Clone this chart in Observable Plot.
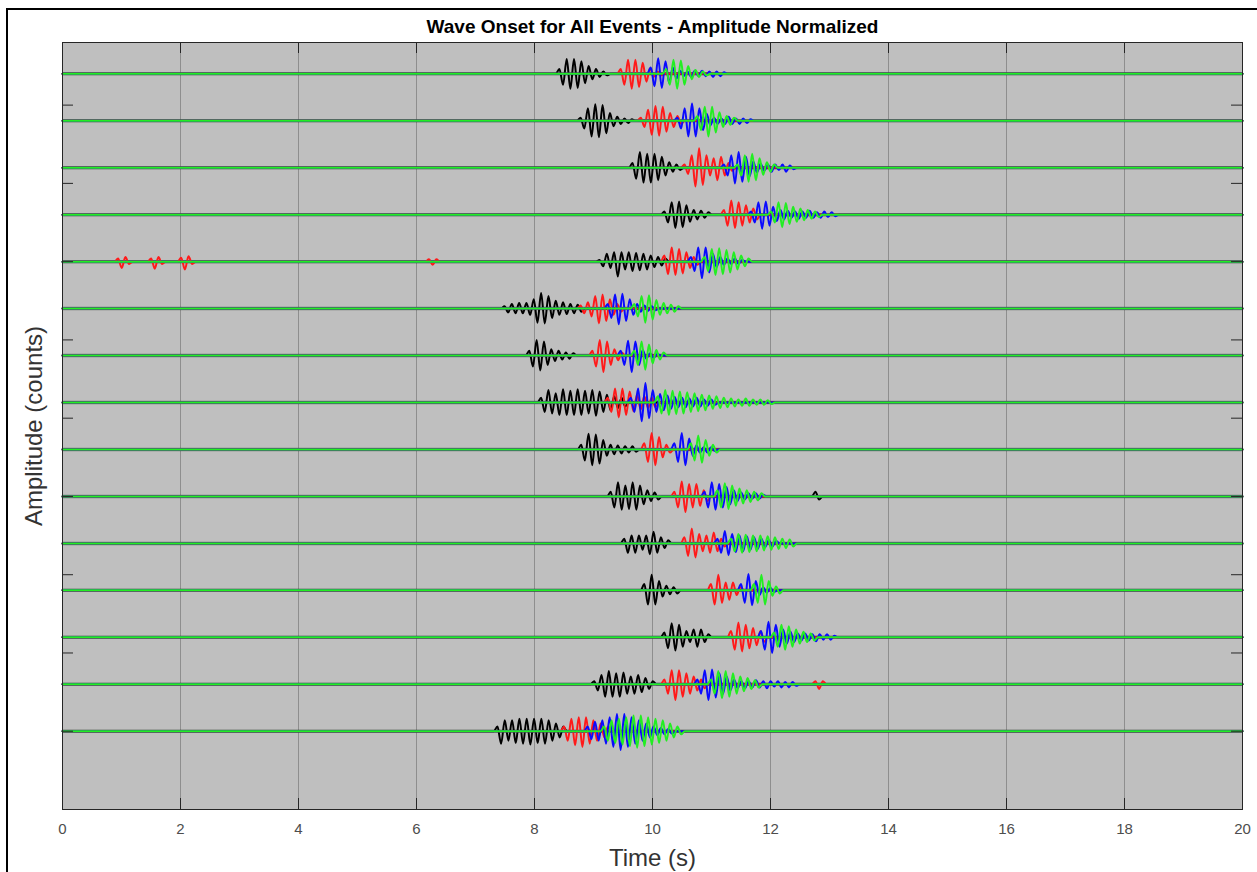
<!DOCTYPE html>
<html>
<head>
<meta charset="utf-8">
<script src="https://cdn.jsdelivr.net/npm/d3@7"></script>
<script src="https://cdn.jsdelivr.net/npm/@observablehq/plot@0.6"></script>
<style>
  html, body { margin: 0; padding: 0; background: #ffffff; }
  #page { position: relative; width: 1257px; height: 872px; overflow: hidden; }
  #edge { position: absolute; left: 6px; top: 8px; width: 1300px; height: 900px;
          border-left: 2px solid #000; border-top: 2px solid #000; pointer-events: none; }
  #chart { position: absolute; left: 0; top: 0; }
</style>
</head>
<body>
<div id="page"><div id="chart"></div><div id="edge"></div></div>
<script>
// Axis ticks and trace offsets (one trace per event, stacked top to bottom)
const xTicks = [0, 2, 4, 6, 8, 10, 12, 14, 16, 18, 20];
const yTicks = [5, 10, 15, 20, 25, 30, 35, 40, 45];
const traceOffsets = [3, 6, 9, 12, 15, 18, 21, 24, 27, 30, 33, 36, 39, 42, 45];

// Oscillation half period of the arrivals (s)
const HALF_PERIOD = 0.062;

// Wave packets per event: [onset time (s), successive peak amplitudes]
const blackWaves = [
  [[8.36, [0.3,0.7,0.95,0.95,0.95,0.9,0.8,0.6,0.5,0.35,0.3,0.2,0.15,0.1]]],
  [[8.72, [0.2,0.5,0.8,1.0,1.05,1.05,1.0,0.8,0.5,0.35,0.25,0.2,0.15,0.15,0.1]]],
  [[9.60, [0.3,0.7,1.0,0.95,0.9,0.95,0.9,0.8,0.7,0.5,0.35,0.25,0.2,0.15]]],
  [[10.14,[0.2,0.5,0.8,0.85,0.85,0.8,0.6,0.45,0.3,0.3,0.25,0.2,0.15]]],
  [[9.04, [0.1,0.3,0.5,0.4,0.6,0.95,0.6,0.5,0.6,0.6,0.55,0.55,0.5,0.5,0.4,0.35,0.3,0.25,0.2]]],
  [[7.43, [0.15,0.25,0.3,0.3,0.35,0.3,0.35,0.4,0.6,0.9,1.0,0.95,0.8,0.6,0.5,0.4,0.4,0.35,0.3,0.3,0.25,0.2]]],
  [[7.85, [0.3,0.7,1.0,0.95,0.9,0.6,0.4,0.35,0.3,0.25,0.2,0.2,0.15]]],
  [[8.05, [0.3,0.6,0.8,0.7,0.6,0.8,0.85,0.8,0.75,0.8,0.85,0.8,0.75,0.7,0.8,0.85,0.7,0.6,0.5,0.5,0.4,0.35,0.3,0.25]]],
  [[8.73, [0.3,0.7,1.0,1.0,0.95,0.9,0.6,0.4,0.3,0.3,0.25,0.25,0.2,0.2,0.2,0.15]]],
  [[9.23, [0.3,0.7,0.9,0.85,0.7,0.8,0.9,0.85,0.7,0.5,0.4,0.3,0.25,0.2]], [12.70, [0.3,0.2]]],
  [[9.46, [0.3,0.6,0.5,0.6,0.5,0.4,0.5,0.7,0.75,0.6,0.4,0.3,0.2]]],
  [[9.80, [0.4,0.9,1.0,0.9,0.6,0.4,0.3,0.25,0.2,0.2]]],
  [[10.14,[0.3,0.7,0.9,0.85,0.8,0.6,0.4,0.3,0.5,0.6,0.5,0.3,0.2]]],
  [[8.95, [0.2,0.4,0.6,0.8,0.85,0.8,0.7,0.8,0.75,0.6,0.5,0.6,0.6,0.5,0.4,0.3,0.2]]],
  [[7.31, [0.3,0.8,0.7,0.6,0.7,0.75,0.8,0.8,0.8,0.85,0.8,0.75,0.8,0.8,0.7,0.6,0.5,0.4,0.3]]]
];
const redWaves = [
  [[9.40, [0.3,0.7,0.9,0.95,0.9,0.85,0.7,0.5,0.35,0.2,0.15,0.1]]],
  [[9.74, [0.2,0.4,0.7,0.9,0.95,0.95,0.9,0.7,0.5,0.4,0.3,0.2]]],
  [[10.48,[0.2,0.4,0.8,1.2,1.25,1.1,0.8,0.5,0.6,0.8,0.7,0.5,0.3,0.2]]],
  [[11.15,[0.3,0.7,0.9,0.85,0.8,0.7,0.6,0.5,0.4,0.3]]],
  [[0.88, [0.2,0.4,0.3,0.15]], [1.44, [0.2,0.45,0.3,0.15]], [1.95, [0.25,0.5,0.35,0.15]],
   [6.15, [0.15,0.2,0.15]], [10.14, [0.4,0.8,0.9,0.85,0.8,0.75,0.6,0.4,0.3,0.2]]],
  [[8.72, [0.2,0.3,0.4,0.5,0.8,0.95,0.9,0.8,0.6,0.4,0.3,0.2]]],
  [[8.92, [0.3,0.7,1.0,1.05,0.9,0.6,0.4,0.3,0.2]]],
  [[9.18, [0.3,0.6,0.9,0.95,0.9,0.8,0.7,0.55,0.5,0.45,0.4,0.35,0.3,0.3]]],
  [[9.80, [0.4,0.8,1.05,1.0,0.8,0.5,0.3,0.2]]],
  [[10.31,[0.3,0.7,0.95,1.0,0.8,0.7,0.8,0.6,0.4,0.3]]],
  [[10.48,[0.4,0.8,0.95,0.9,0.6,0.5,0.5,0.6,0.7,0.5,0.3,0.2]]],
  [[10.93,[0.4,0.9,1.0,0.8,0.5,0.6,0.5,0.3,0.2]]],
  [[11.27,[0.4,0.8,0.95,0.9,0.8,0.7,0.6,0.5,0.4,0.3]]],
  [[10.14,[0.3,0.6,0.9,1.0,0.9,0.8,0.7,0.6,0.5,0.4,0.3,0.25]], [12.70, [0.2,0.3,0.2]]],
  [[8.44, [0.3,0.6,0.8,0.9,0.9,1.0,0.9,0.8,0.7,0.6,0.5,0.4,0.3]]]
];
const blueWaves = [
  [[9.91, [0.4,0.8,1.0,0.9,0.8,0.6,0.4,0.3,0.2,0.15,0.15,0.2,0.2,0.15,0.2,0.15,0.15,0.2,0.15,0.15,0.1]]],
  [[10.36,[0.2,0.5,0.8,1.0,1.1,1.0,0.8,0.6,0.45,0.3,0.2,0.2,0.15,0.2,0.25,0.2,0.15,0.2,0.15,0.15,0.1]]],
  [[11.15,[0.2,0.5,0.8,1.0,1.0,0.9,0.7,0.55,0.4,0.3,0.25,0.2,0.2,0.25,0.2,0.15,0.2,0.25,0.15,0.1]]],
  [[11.61,[0.2,0.5,0.8,0.9,0.85,0.7,0.5,0.4,0.3,0.3,0.25,0.2,0.2,0.25,0.2,0.2,0.25,0.2,0.15,0.2,0.2,0.15,0.15,0.1]]],
  [[10.59,[0.3,0.6,0.9,1.05,0.9,0.7,0.5,0.35,0.3,0.2,0.2,0.15,0.2,0.15,0.1]]],
  [[9.18, [0.3,0.6,0.9,1.0,0.95,0.8,0.6,0.4,0.3,0.2,0.2,0.15,0.15,0.1]]],
  [[9.40, [0.3,0.6,0.95,1.05,0.9,0.6,0.35,0.2,0.15,0.15,0.1]]],
  [[9.57, [0.3,0.6,0.9,1.2,1.25,1.0,0.8,0.6,0.55,0.5,0.45,0.4,0.35,0.3,0.3,0.3,0.25,0.25,0.3,0.25,0.2,0.2,0.2,0.15]]],
  [[10.31,[0.4,0.8,1.05,1.0,0.7,0.4,0.25,0.2,0.15,0.2,0.15,0.1]]],
  [[10.82,[0.3,0.7,0.9,0.85,0.8,0.7,0.6,0.5,0.4,0.3,0.25,0.2,0.2,0.15,0.2,0.15,0.1]]],
  [[11.04,[0.3,0.6,0.8,0.75,0.6,0.55,0.5,0.5,0.45,0.4,0.4,0.35,0.3,0.25,0.2,0.2,0.15]]],
  [[11.44,[0.4,0.8,1.05,0.95,0.6,0.3,0.2,0.15,0.15,0.1]]],
  [[11.78,[0.4,0.8,1.0,1.0,0.8,0.6,0.5,0.4,0.35,0.3,0.25,0.2,0.25,0.2,0.2,0.25,0.2,0.15,0.2,0.15,0.1]]],
  [[10.70,[0.3,0.6,0.9,1.0,0.95,0.85,0.7,0.6,0.5,0.4,0.3,0.25,0.2,0.25,0.2,0.2,0.25,0.2,0.2,0.25,0.2,0.15,0.2,0.2,0.15,0.2,0.15,0.1]]],
  [[8.84, [0.3,0.5,0.6,0.6,0.7,0.8,0.9,1.0,1.1,1.2,1.1,1.0,0.9,0.8,0.7,0.6,0.5,0.4,0.3,0.25,0.2,0.2,0.15,0.15]]]
];
const greenWaves = [
  [[10.17,[0.3,0.7,0.9,0.95,0.85,0.7,0.5,0.35,0.25,0.2,0.15,0.1]]],
  [[10.70,[0.3,0.6,0.9,1.0,0.9,0.75,0.55,0.4,0.3,0.25,0.2]]],
  [[11.38,[0.2,0.5,0.8,0.9,0.9,0.8,0.6,0.45,0.35,0.25,0.2]]],
  [[11.95,[0.2,0.5,0.8,0.8,0.75,0.6,0.5,0.45,0.4,0.35,0.3,0.25,0.2,0.15]]],
  [[10.82,[0.3,0.6,0.8,0.85,0.85,0.8,0.75,0.7,0.6,0.5,0.4,0.3,0.2]]],
  [[9.63, [0.3,0.5,0.8,0.9,0.85,0.7,0.55,0.4,0.35,0.3,0.25,0.2,0.15]]],
  [[9.63, [0.3,0.6,0.9,0.9,0.7,0.5,0.35,0.25,0.2]]],
  [[10.03,[0.4,0.7,0.8,0.8,0.75,0.75,0.7,0.7,0.65,0.6,0.6,0.55,0.5,0.5,0.45,0.4,0.4,0.35,0.3,0.3,0.25,0.25,0.2,0.2,0.25,0.2,0.2,0.15,0.2,0.15,0.15,0.1]]],
  [[10.59,[0.4,0.7,0.9,0.85,0.6,0.4,0.3,0.2]]],
  [[11.04,[0.4,0.7,0.85,0.8,0.7,0.6,0.5,0.45,0.4,0.35,0.3,0.25,0.2]]],
  [[11.27,[0.3,0.5,0.6,0.6,0.55,0.55,0.5,0.5,0.5,0.45,0.45,0.4,0.4,0.35,0.3,0.3,0.25,0.2]]],
  [[11.66,[0.4,0.8,1.0,0.9,0.6,0.35,0.25,0.2]]],
  [[12.00,[0.3,0.6,0.8,0.8,0.7,0.6,0.5,0.4,0.35,0.3,0.25,0.2]]],
  [[10.93,[0.3,0.6,0.85,0.9,0.85,0.8,0.7,0.6,0.5,0.45,0.4,0.3,0.25,0.2]]],
  [[9.12, [0.3,0.6,0.7,0.75,0.8,0.85,0.9,0.95,1.0,1.05,1.0,0.95,0.9,0.85,0.8,0.75,0.7,0.6,0.5,0.4,0.3,0.2]]]
];

const components = [
  {name: "black", waves: blackWaves, color: "#000000"},
  {name: "red",   waves: redWaves,   color: "#ff1a1a"},
  {name: "blue",  waves: blueWaves,  color: "#0a0aff"},
  {name: "green", waves: greenWaves, color: "#22ee22"}
];

// Turn the packets of one component into trace points: flat baseline,
// then a zero at the onset, alternating peaks, and a zero at the end.
function tracePoints(waves) {
  const pts = [];
  waves.forEach((packets, i) => {
    const base = traceOffsets[i];
    pts.push({trace: i, t: xTicks[0], v: base});
    packets.forEach(([t0, amps]) => {
      pts.push({trace: i, t: t0, v: base});
      amps.forEach((a, k) => {
        pts.push({trace: i, t: t0 + (k + 1) * HALF_PERIOD, v: base + (k % 2 ? a : -a)});
      });
      pts.push({trace: i, t: t0 + (amps.length + 1) * HALF_PERIOD, v: base});
    });
    pts.push({trace: i, t: xTicks[xTicks.length - 1], v: base});
  });
  return pts;
}

const W = 1257, H = 872;
const mTop = 42, mBottom = 63, mLeft = 62, mRight = 15;
const frameW = W - mLeft - mRight, frameH = H - mTop - mBottom;
const TICK = 11;
const font = "'Liberation Sans', Arial, Helvetica, sans-serif";
const centered = {textAnchor: "middle", lineAnchor: "middle"};

const lineMarks = components.map(c =>
  Plot.line(tracePoints(c.waves), {
    x: "t", y: "v", z: "trace", stroke: c.color,
    strokeWidth: 2, curve: "monotone-x"
  })
);

const chart = Plot.plot({
  width: W, height: H,
  marginTop: mTop, marginBottom: mBottom, marginLeft: mLeft, marginRight: mRight,
  style: {background: "transparent", fontFamily: font},
  x: {domain: [0, 20], axis: null},
  y: {domain: [50, 1], axis: null},
  marks: [
    Plot.frame({fill: "#bfbfbf", stroke: null}),
    Plot.ruleX(xTicks.slice(1, -1), {stroke: "#8e8e8e", strokeWidth: 1}),
    Plot.ruleY(traceOffsets, {stroke: "#263326", strokeWidth: 3.5, strokeOpacity: 0.45}),
    ...lineMarks,
    Plot.frame({stroke: "#262626", strokeWidth: 1}),
    // inward ticks on all four sides
    Plot.tickX(xTicks, {x: d => d, stroke: "#262626", insetTop: frameH - TICK}),
    Plot.tickX(xTicks, {x: d => d, stroke: "#262626", insetBottom: frameH - TICK}),
    Plot.tickY(yTicks, {y: d => d, stroke: "#262626", insetRight: frameW - TICK}),
    Plot.tickY(yTicks, {y: d => d, stroke: "#262626", insetLeft: frameW - TICK}),
    // tick labels and titles
    Plot.text(xTicks, {x: d => d, text: d => String(d), frameAnchor: "bottom", dy: 20,
      fontSize: 15, fill: "#4d4d4d", ...centered}),
    Plot.text(["Time (s)"], {text: d => d, frameAnchor: "bottom", dy: 49,
      fontSize: 24, fill: "#333333", ...centered}),
    Plot.text(["Amplitude (counts)"], {text: d => d, frameAnchor: "left", dx: -28,
      rotate: -90, fontSize: 24, fill: "#333333", ...centered}),
    Plot.text(["Wave Onset for All Events - Amplitude Normalized"], {text: d => d,
      frameAnchor: "top", dy: -16, fontSize: 19, fontWeight: "bold", fill: "#000", ...centered})
  ]
});

document.getElementById("chart").appendChild(chart);
</script>
</body>
</html>
